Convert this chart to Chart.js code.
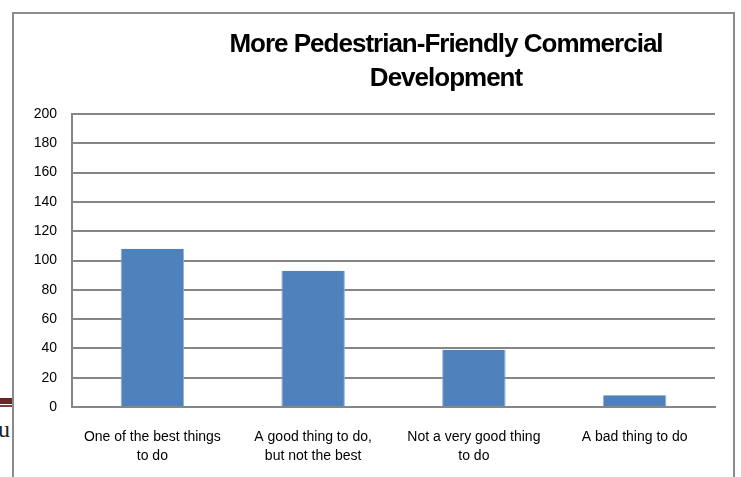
<!DOCTYPE html>
<html>
<head>
<meta charset="utf-8">
<script src="https://cdn.jsdelivr.net/npm/chart.js@4/dist/chart.umd.min.js"></script>
<style>
  html, body { margin: 0; padding: 0; background: #fff; overflow: hidden; }
  #wrap { position: relative; width: 741px; height: 477px; }
  #redline { position: absolute; left: 0; top: 398px; width: 14px; height: 6px; background: #6e2424; border-bottom: 1px solid #fff; }
  #redline2 { position: absolute; left: 0; top: 405px; width: 14px; height: 2px; background: #8a3a3a; }
  #stray { position: absolute; left: -2px; top: 416px; font: 24px "Liberation Serif", serif; color: #222; }
  canvas { position: absolute; left: 0; top: 0; }
</style>
</head>
<body>
<div id="wrap">
  <div id="redline"></div>
  <div id="redline2"></div>
  <div id="stray">u</div>
  <canvas id="pedChart" width="741" height="477"></canvas>
</div>
<script>
// Survey responses
var titleLines = ['More Pedestrian-Friendly Commercial', 'Development'];
var categories = [
    ['One of the best things', 'to do'],
    ['A good thing to do,', 'but not the best'],
    ['Not a very good thing', 'to do'],
    ['A bad thing to do']
];
var responses = [108, 93, 39, 8];
var yTicks = [0, 20, 40, 60, 80, 100, 120, 140, 160, 180, 200];

// white chart frame with grey border + title
var framePlugin = {
    id: 'frame',
    beforeDraw: function (chart) {
        var c = chart.ctx;
        c.save();
        c.fillStyle = '#fff';
        c.fillRect(13, 13, 721, 470);
        c.strokeStyle = '#8c8c8c';
        c.lineWidth = 2;
        c.strokeRect(13, 13, 721, 470);
        c.restore();
    },
    afterDraw: function (chart) {
        var c = chart.ctx;
        c.save();
        c.fillStyle = '#000';
        c.font = 'bold 26px "Liberation Sans", Arial, sans-serif';
        c.textAlign = 'center';
        c.textBaseline = 'alphabetic';
        if ('letterSpacing' in c) c.letterSpacing = '-1px';
        c.fillText(titleLines[0], 446, 52);
        c.fillText(titleLines[1], 446, 86);
        c.restore();
    }
};

var ctx = document.getElementById('pedChart').getContext('2d');
var pedChart = new Chart(ctx, {
    type: 'bar',
    data: {
        labels: categories,
        datasets: [{
            data: responses,
            backgroundColor: '#4f81bd',
            borderColor: '#8fb0d8',
            borderWidth: { left: 1, right: 1, top: 0, bottom: 0 },
            categoryPercentage: 1,
            barPercentage: 0.395
        }]
    },
    options: {
        responsive: false,
        animation: false,
        layout: { padding: { top: 114, right: 26, left: 0, bottom: 0 } },
        plugins: {
            legend: { display: false },
            title: { display: false },
            tooltip: { enabled: false }
        },
        scales: {
            x: {
                afterFit: function (s) { s.height = 70; },
                grid: { display: false, drawTicks: false },
                border: { display: true, color: '#868686', width: 2 },
                ticks: {
                    color: '#000',
                    padding: 21,
                    maxRotation: 0,
                    autoSkip: false,
                    font: { family: '"Liberation Sans", Arial, sans-serif', size: 14, lineHeight: 1.35 }
                }
            },
            y: {
                min: 0,
                max: 200,
                afterFit: function (s) { s.width = 72; },
                afterBuildTicks: function (s) {
                    s.ticks = yTicks.map(function (v) { return { value: v }; });
                },
                grid: { color: '#868686', lineWidth: 2, drawTicks: false },
                border: { display: true, color: '#868686', width: 2 },
                ticks: {
                    color: '#000',
                    padding: 15,
                    font: { family: '"Liberation Sans", Arial, sans-serif', size: 14 }
                }
            }
        }
    },
    plugins: [framePlugin]
});
</script>
</body>
</html>
